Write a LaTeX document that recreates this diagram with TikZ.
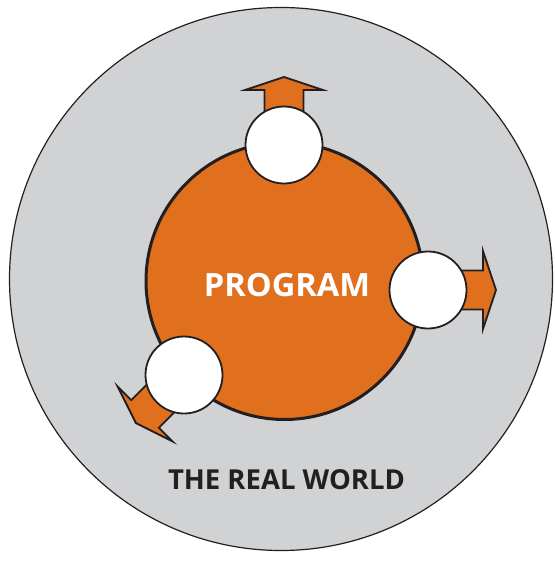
\documentclass[tikz,border=0pt]{standalone}
\usepackage{fontspec}
\setmainfont{Open Sans}
\definecolor{gr}{HTML}{D1D2D4}
\definecolor{org}{HTML}{E0701E}
\definecolor{ink}{HTML}{231F20}
\begin{document}
\begin{tikzpicture}[x=1pt,y=-1pt,
  fatarrow/.style={fill=org,draw=ink,line width=1.8pt,line join=miter},
  port/.style={circle,fill=white,draw=ink,line width=1.8pt,minimum size=77pt,inner sep=0pt},
  outarrow/.pic={\draw[fatarrow] (0,-19.5) -- (55,-19.5) -- (55,-39) -- (68,0) -- (55,39) -- (55,19.5) -- (0,19.5) -- cycle;}]
\useasboundingbox (0,0) rectangle (554,561);
\node[circle,fill=gr,draw=ink,line width=1.2pt,minimum size=543pt,inner sep=0pt] (world) at (281,279) {};
\node[circle,fill=org,draw=ink,line width=3pt,minimum size=277pt,inner sep=0pt] (prog) at (284.5,281) {};
\coordinate (ct) at (284,145);
\coordinate (cr) at (428,290);
\coordinate (cb) at (184,375);
\pic[rotate=90] at (ct) {outarrow};
\pic[rotate=0] at (cr) {outarrow};
\pic[rotate=225] at (cb) {outarrow};
\node[port] (top) at (ct) {};
\node[port] (right) at (cr) {};
\node[port] (bottom) at (cb) {};
\node[anchor=base,text=white,font=\bfseries\fontsize{32}{32}\selectfont,inner sep=0pt,xscale=1.02] (plabel) at (287,296.5) {PROGRAM};
\node[anchor=base,text=ink,font=\bfseries\fontsize{27.5}{27}\selectfont,inner sep=0pt] (wlabel) at (286.5,489.5) {THE REAL WORLD};
\end{tikzpicture}
\end{document}
